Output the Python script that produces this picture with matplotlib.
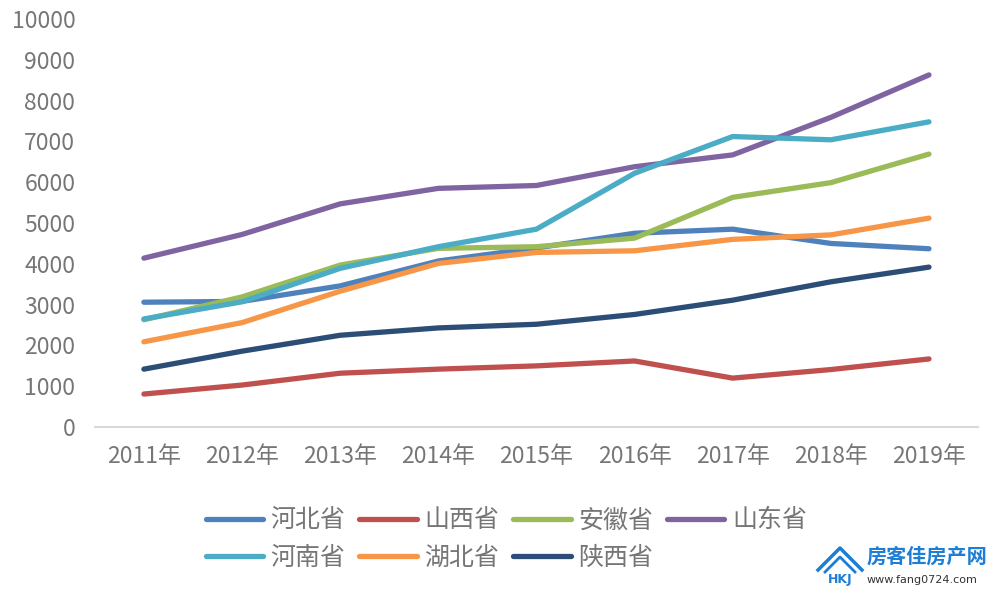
import matplotlib
matplotlib.use("Agg")
import matplotlib.pyplot as plt
from matplotlib.lines import Line2D

plt.rcParams['font.family'] = ['Noto Sans CJK SC', 'DejaVu Sans']

years = ["2011年", "2012年", "2013年", "2014年", "2015年", "2016年", "2017年", "2018年", "2019年"]
hebei = [3060, 3080, 3460, 4070, 4390, 4750, 4850, 4500, 4370]
shanxi = [810, 1030, 1320, 1420, 1500, 1620, 1200, 1410, 1670]
anhui = [2630, 3190, 3970, 4380, 4420, 4630, 5630, 5990, 6690]
shandong = [4140, 4720, 5470, 5850, 5920, 6380, 6670, 7590, 8630]
henan = [2650, 3070, 3890, 4420, 4850, 6220, 7120, 7040, 7480]
hubei = [2090, 2560, 3330, 4010, 4280, 4320, 4600, 4710, 5120]
shaanxi = [1420, 1860, 2250, 2430, 2520, 2760, 3110, 3560, 3920]

series = [
    ("河北省", hebei, "#4F81BD"),
    ("山西省", shanxi, "#C0504D"),
    ("安徽省", anhui, "#9BBB59"),
    ("山东省", shandong, "#8064A2"),
    ("河南省", henan, "#4BACC6"),
    ("湖北省", hubei, "#F79646"),
    ("陕西省", shaanxi, "#2C4D75"),
]

fig = plt.figure(figsize=(9.98, 5.94), dpi=100)
ax = fig.add_axes([0.095, 0.281, 0.885, 0.687])

x = list(range(len(years)))
handles = []
for name, vals, col in series:
    h, = ax.plot(x, vals, color=col, lw=3.8, solid_capstyle='round',
                 solid_joinstyle='round', label=name)
    handles.append(h)

ax.set_xlim(-0.5, len(years) - 0.5)
ax.set_ylim(0, 10000)
ax.set_yticks(range(0, 10001, 1000))
ax.set_xticks(x)
ax.set_xticklabels(years)
tc = "#767676"
ax.tick_params(axis='both', length=0, labelsize=16.5, labelcolor=tc)
ax.tick_params(axis='x', pad=13)
ax.tick_params(axis='y', pad=14)
for s in ['top', 'right', 'left']:
    ax.spines[s].set_visible(False)
ax.spines['bottom'].set_color('#D9D9D9')
ax.spines['bottom'].set_linewidth(1.5)

order = [0, 4, 1, 5, 2, 6, 3]
leg = fig.legend([handles[i] for i in order], [series[i][0] for i in order],
                 ncol=4, loc='upper left', bbox_to_anchor=(0.206, 0.146),
                 frameon=False, fontsize=18, handlelength=2.3, handletextpad=0.3,
                 columnspacing=0.55, labelspacing=0.45, borderaxespad=0,
                 borderpad=0)
for t in leg.get_texts():
    t.set_color(tc)

# watermark
wc = "#1C7ED6"
fig.add_artist(Line2D([818 / 998, 840 / 998, 862 / 998], [1 - 570 / 594, 1 - 548 / 594, 1 - 570 / 594],
                      color=wc, lw=2.5, transform=fig.transFigure))
fig.add_artist(Line2D([825 / 998, 840 / 998, 855 / 998], [1 - 572 / 594, 1 - 557 / 594, 1 - 572 / 594],
                      color=wc, lw=2, transform=fig.transFigure))
fig.text(840 / 998, 1 - 580 / 594, "HKJ", color=wc, fontsize=9, fontweight='bold',
         ha='center', va='center', family=['DejaVu Sans'])
fig.text(0.868, 1 - 556 / 594, "房客佳房产网", color=wc, fontsize=14.5, fontweight='bold',
         ha='left', va='center')
fig.text(0.868, 1 - 580 / 594, "www.fang0724.com", color="#333333", fontsize=8,
         ha='left', va='center', family=['DejaVu Sans'])

fig.savefig("out.png", dpi=100)
